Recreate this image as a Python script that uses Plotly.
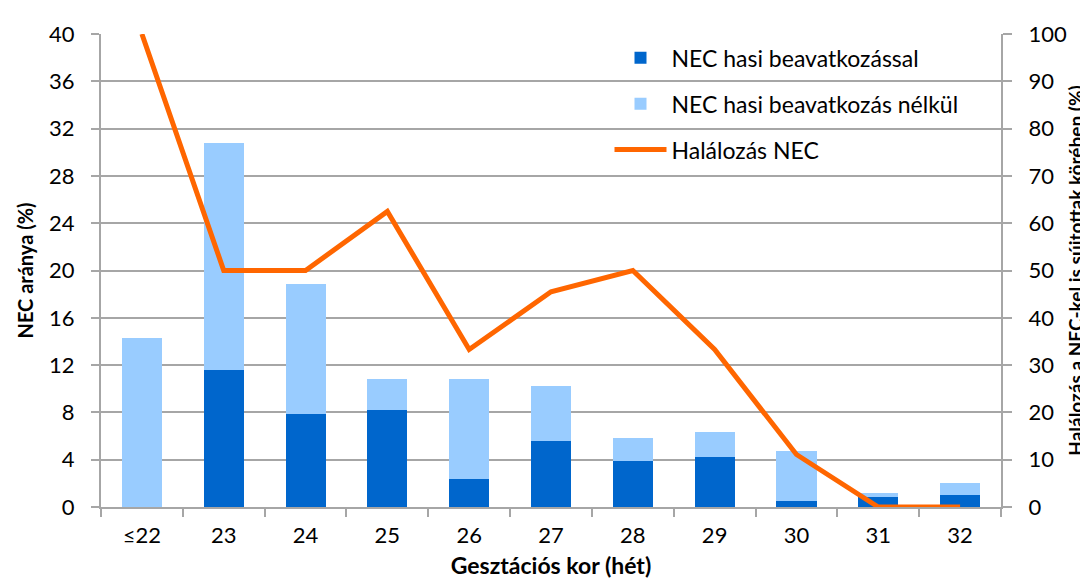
import plotly.graph_objects as go

categories = ["≤22", "23", "24", "25", "26", "27", "28", "29", "30", "31", "32"]
nec_with_surgery = [0, 11.6, 7.9, 8.2, 2.4, 5.6, 3.85, 4.2, 0.55, 0.85, 1.0]
nec_without_surgery = [14.3, 19.2, 11.0, 2.65, 8.4, 4.6, 1.95, 2.15, 4.2, 0.35, 1.0]
mortality_nec = [100, 50, 50, 62.5, 33.3, 45.5, 50, 33.3, 11.1, 0, 0]

FONT = "Lato"
GRID = "#A6A6A6"
TXT = "#000000"

fig = go.Figure()
fig.add_trace(go.Bar(x=categories, y=nec_with_surgery, name="NEC hasi beavatkozással",
                     marker=dict(color="#0066CC", line=dict(width=0)), legendgroup="a"))
fig.add_trace(go.Bar(x=categories, y=nec_without_surgery, name="NEC hasi beavatkozás nélkül",
                     marker=dict(color="#99CCFF", line=dict(width=0)), legendgroup="b"))
fig.add_trace(go.Scatter(x=categories, y=mortality_nec, name="Halálozás NEC", mode="lines",
                         line=dict(color="#FF6600", width=5), yaxis="y2", legendgroup="c"))

# white box behind the legend (hides the gridlines there, as in the original)
fig.add_shape(type="rect", xref="paper", yref="y", x0=0.556, x1=0.991, y0=27.0, y1=39.7,
              fillcolor="white", line=dict(width=0), layer="between")

fig.update_layout(
    width=1088, height=579,
    margin=dict(l=93, r=95, t=21, b=79),
    paper_bgcolor="white", plot_bgcolor="white",
    barmode="stack", bargap=0.51,
    font=dict(family=FONT, size=22, color=TXT),
    showlegend=True,
    legend=dict(x=0.565, y=0.995, xanchor="left", yanchor="top",
                bgcolor="rgba(0,0,0,0)", traceorder="grouped", tracegroupgap=13,
                font=dict(family=FONT, size=23, color=TXT), itemwidth=52),
    xaxis=dict(type="category", tickson="boundaries", ticks="outside", ticklen=8,
               tickcolor=GRID, tickwidth=2, showline=True, linecolor=GRID, linewidth=2,
               showgrid=False, tickfont=dict(size=22), ticklabelstandoff=8,
               title=dict(text="<b>Gesztációs kor (hét)</b>", standoff=10, font=dict(size=23))),
    yaxis=dict(range=[0, 40], dtick=4, showgrid=True, gridcolor=GRID, gridwidth=2,
               ticks="outside", ticklen=8, tickcolor=GRID, tickwidth=2,
               showline=True, linecolor=GRID, linewidth=2, zeroline=False,
               tickfont=dict(size=22), ticklabelstandoff=12,
               title=dict(text="<b>NEC aránya (%)</b>", standoff=10, font=dict(size=20))),
    yaxis2=dict(range=[0, 100], dtick=10, overlaying="y", side="right", showgrid=False,
                ticks="outside", ticklen=9, tickcolor=GRID, tickwidth=2,
                showline=True, linecolor=GRID, linewidth=2, zeroline=False,
                tickfont=dict(size=22), ticklabelstandoff=12,
                title=dict(text="<b>Halálozás a NEC-kel is sújtottak körében (%)</b>",
                           standoff=4, font=dict(size=19))),
)

fig.write_html("out.html")
